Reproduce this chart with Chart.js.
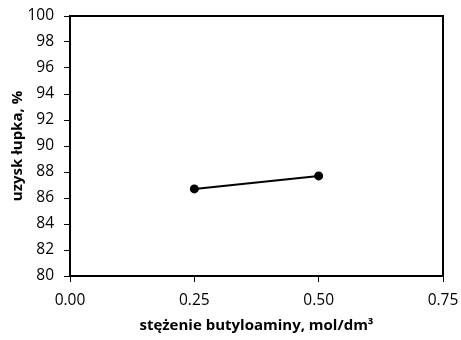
<!DOCTYPE html>
<html>
<head>
<meta charset="utf-8">
<script src="https://cdn.jsdelivr.net/npm/chart.js@4/dist/chart.umd.min.js"></script>
<style>
  html, body { margin: 0; padding: 0; background: #fff; }
  #wrap { width: 461px; height: 340px; }
</style>
</head>
<body>
<div id="wrap"><canvas id="chart"></canvas></div>
<script>
// Data
const concentrations = [0.25, 0.5];
const yieldValues = [86.7, 87.7];
const xTicks = [0, 0.25, 0.5, 0.75];
const yRange = [80, 100];

// Box around the plot area
const frame = {
    id: 'frame',
    afterDraw(chart) {
        const a = chart.chartArea;
        const ctx = chart.ctx;
        ctx.save();
        ctx.strokeStyle = '#000';
        ctx.lineWidth = 2;
        ctx.strokeRect(a.left, a.top, a.right - a.left, a.bottom - a.top);
        ctx.restore();
    }
};

const family = '"Open Sans", "Liberation Sans", sans-serif';
const tickFont = { family: family, size: 15.5 };
const titleFont = { family: family, size: 15, weight: 'bold' };

new Chart(document.getElementById('chart'), {
    type: 'scatter',
    data: {
        datasets: [{
            data: concentrations.map((x, i) => ({ x: x, y: yieldValues[i] })),
            showLine: true,
            borderColor: '#000',
            backgroundColor: '#000',
            borderWidth: 2,
            pointRadius: 3.5,
            pointHoverRadius: 3.5
        }]
    },
    options: {
        responsive: true,
        maintainAspectRatio: false,
        animation: false,
        layout: { padding: { top: 16, right: 18, left: 0, bottom: 0 } },
        plugins: {
            legend: { display: false },
            tooltip: { enabled: false }
        },
        scales: {
            x: {
                type: 'linear',
                min: xTicks[0],
                max: xTicks[xTicks.length - 1],
                afterBuildTicks: axis => { axis.ticks = xTicks.map(v => ({ value: v })); },
                afterFit: axis => {
                    axis.height = 64;
                    axis.paddingLeft = 0;
                    axis.paddingRight = 0;
                },
                ticks: {
                    color: '#000',
                    font: tickFont,
                    padding: 9,
                    callback: v => v.toFixed(2)
                },
                grid: { drawOnChartArea: false, drawTicks: true, tickLength: 6, color: '#000', lineWidth: 1 },
                border: { color: '#000', width: 2 },
                title: {
                    display: true,
                    text: 'stężenie butyloaminy, mol/dm³',
                    color: '#000',
                    font: titleFont,
                    padding: { top: 4, bottom: 5 }
                }
            },
            y: {
                min: yRange[0],
                max: yRange[1],
                afterFit: axis => {
                    axis.width = 70;
                    axis.paddingTop = 0;
                    axis.paddingBottom = 0;
                },
                ticks: {
                    stepSize: 2,
                    color: '#000',
                    font: tickFont,
                    padding: 10
                },
                grid: { drawOnChartArea: false, drawTicks: true, tickLength: 6, color: '#000', lineWidth: 1 },
                border: { color: '#000', width: 2 },
                title: {
                    display: true,
                    text: 'uzysk łupka, %',
                    color: '#000',
                    font: titleFont,
                    padding: { top: 9, bottom: 2 }
                }
            }
        }
    },
    plugins: [frame]
});
</script>
</body>
</html>
